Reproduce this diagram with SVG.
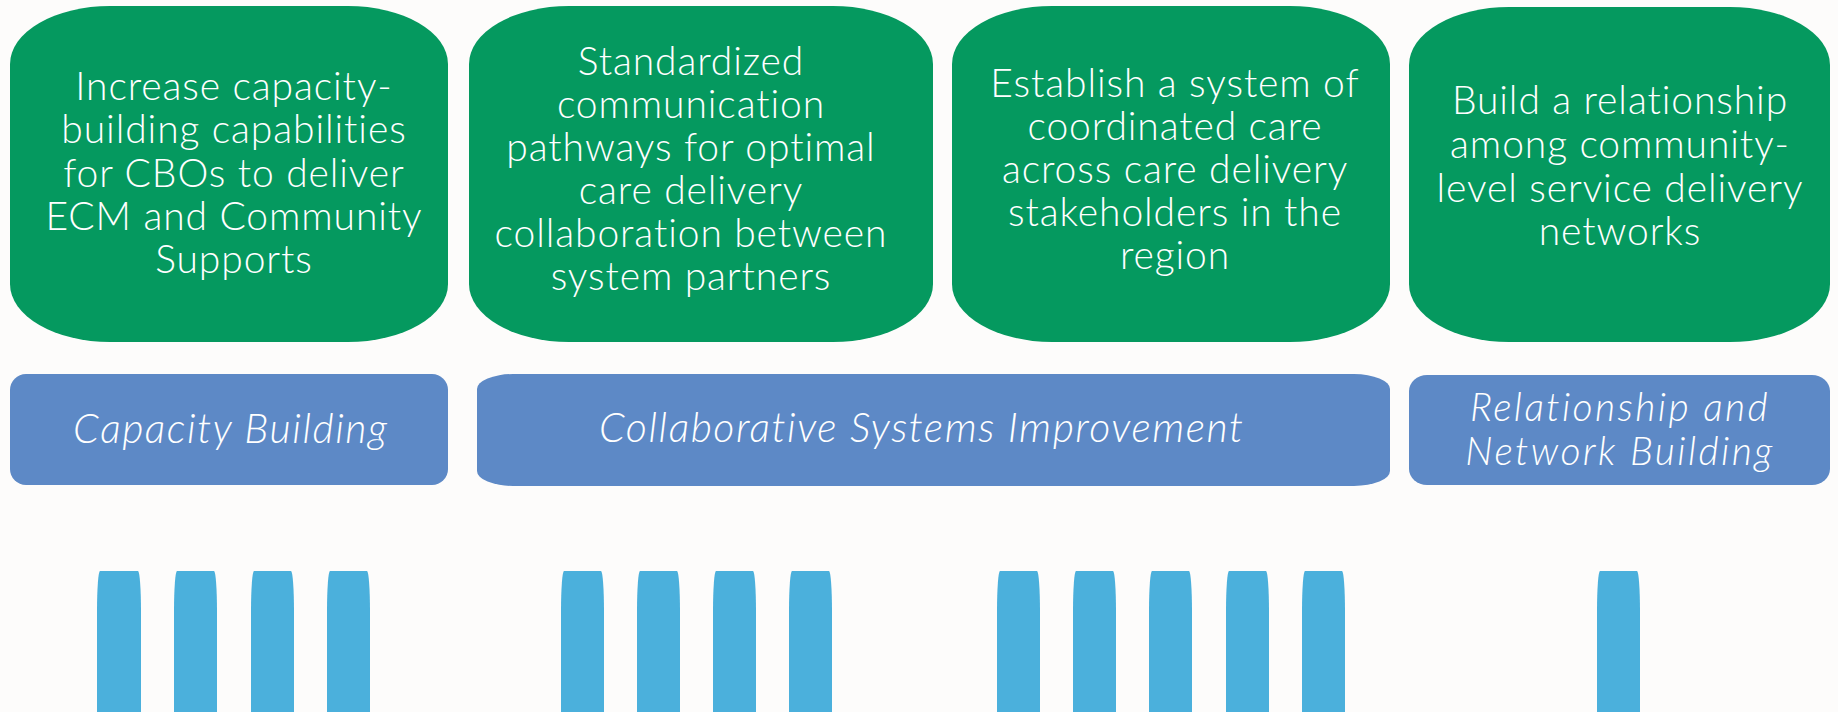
<svg xmlns="http://www.w3.org/2000/svg" width="1838" height="712" viewBox="0 0 1838 712">
<style>
.goal{fill:#05995F}
.band{fill:#5D89C6}
.pill{fill:#4BB0DC}
.gt{font-family:Lato,"Liberation Sans",sans-serif;font-weight:300;font-size:39px;letter-spacing:0.9px;font-variant-ligatures:none;fill:#FFFFFF;text-anchor:middle}
.bt{font-family:Lato,"Liberation Sans",sans-serif;font-weight:300;font-style:italic;font-size:41px;font-variant-ligatures:none;fill:#FFFFFF;text-anchor:middle}
.bt2{font-family:Lato,"Liberation Sans",sans-serif;font-weight:300;font-style:italic;font-size:39px;letter-spacing:2.4px;font-variant-ligatures:none;fill:#FFFFFF;text-anchor:middle}
</style>
<rect x="0" y="0" width="1838" height="712" fill="#FDFCFB"/>
<g id="goal1">
<rect class="goal" x="10" y="6" width="438" height="336" rx="100" ry="58"/>
<text class="gt"><tspan x="234" y="100">Increase capacity-</tspan><tspan x="234" y="143">building capabilities</tspan><tspan x="234" y="187">for CBOs to deliver</tspan><tspan x="234" y="230">ECM and Community</tspan><tspan x="234" y="273">Supports</tspan></text>
</g>
<g id="goal2">
<rect class="goal" x="469" y="6" width="464" height="336" rx="100" ry="58"/>
<text class="gt"><tspan x="691" y="75">Standardized</tspan><tspan x="691" y="118">communication</tspan><tspan x="691" y="161">pathways for optimal</tspan><tspan x="691" y="204">care delivery</tspan><tspan x="691" y="247">collaboration between</tspan><tspan x="691" y="290">system partners</tspan></text>
</g>
<g id="goal3">
<rect class="goal" x="952" y="6" width="438" height="336" rx="100" ry="58"/>
<text class="gt"><tspan x="1175" y="97">Establish a system of</tspan><tspan x="1175" y="140">coordinated care</tspan><tspan x="1175" y="183">across care delivery</tspan><tspan x="1175" y="226">stakeholders in the</tspan><tspan x="1175" y="269">region</tspan></text>
</g>
<g id="goal4">
<rect class="goal" x="1409" y="7" width="421" height="335" rx="100" ry="58"/>
<text class="gt"><tspan x="1620" y="114">Build a relationship</tspan><tspan x="1620" y="158">among community-</tspan><tspan x="1620" y="202">level service delivery</tspan><tspan x="1620" y="245">networks</tspan></text>
</g>
<g id="band1">
<rect class="band" x="10" y="374" width="438" height="111" rx="16" ry="16"/>
<text class="bt" x="230" y="443" textLength="314" lengthAdjust="spacing">Capacity Building</text>
</g>
<g id="band2">
<rect class="band" x="477" y="374" width="913" height="112" rx="36" ry="15"/>
<text class="bt" x="921" y="442" textLength="644" lengthAdjust="spacing">Collaborative Systems Improvement</text>
</g>
<g id="band3">
<rect class="band" x="1409" y="375" width="421" height="110" rx="18" ry="16"/>
<text class="bt2"><tspan x="1620" y="421">Relationship and</tspan><tspan x="1620" y="465">Network Building</tspan></text>
</g>
<g id="pills">
<rect class="pill" x="97" y="571" width="44" height="200" rx="3" ry="40"/>
<rect class="pill" x="174" y="571" width="43" height="200" rx="3" ry="40"/>
<rect class="pill" x="251" y="571" width="43" height="200" rx="3" ry="40"/>
<rect class="pill" x="327" y="571" width="43" height="200" rx="3" ry="40"/>
<rect class="pill" x="561" y="571" width="43" height="200" rx="3" ry="40"/>
<rect class="pill" x="637" y="571" width="43" height="200" rx="3" ry="40"/>
<rect class="pill" x="713" y="571" width="43" height="200" rx="3" ry="40"/>
<rect class="pill" x="789" y="571" width="43" height="200" rx="3" ry="40"/>
<rect class="pill" x="997" y="571" width="43" height="200" rx="3" ry="40"/>
<rect class="pill" x="1073" y="571" width="43" height="200" rx="3" ry="40"/>
<rect class="pill" x="1149" y="571" width="43" height="200" rx="3" ry="40"/>
<rect class="pill" x="1226" y="571" width="43" height="200" rx="3" ry="40"/>
<rect class="pill" x="1302" y="571" width="43" height="200" rx="3" ry="40"/>
<rect class="pill" x="1597" y="571" width="43" height="200" rx="3" ry="40"/>
</g>
</svg>
